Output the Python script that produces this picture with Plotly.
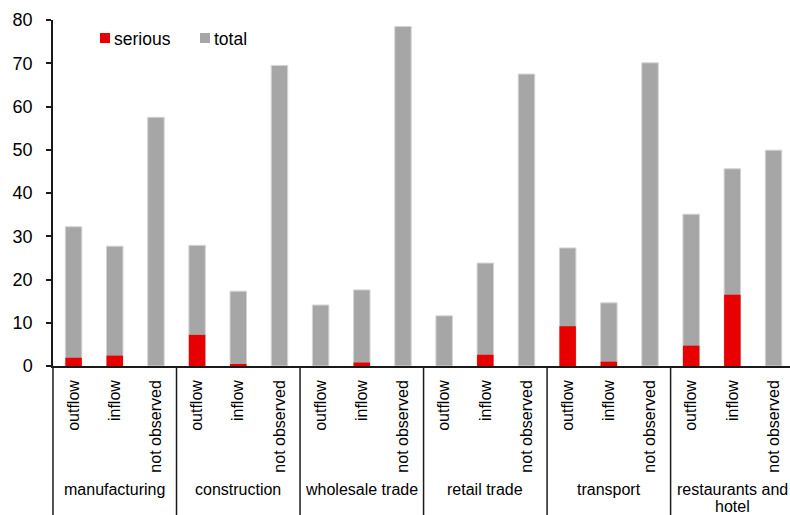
import plotly.graph_objects as go

# Sectors and worker-flow types
sectors = ["manufacturing", "construction", "wholesale trade",
           "retail trade", "transport", "restaurants and<br>hotel"]
flows = ["outflow", "inflow", "not observed"]

# Values per sector, in the order outflow, inflow, not observed
total = [32.2, 27.7, 57.5,
         27.9, 17.3, 69.5,
         14.1, 17.6, 78.5,
         11.6, 23.8, 67.5,
         27.3, 14.6, 70.1,
         35.1, 45.6, 49.9]
serious = [1.9, 2.4, 0.0,
           7.2, 0.4, 0.0,
           0.0, 0.8, 0.0,
           0.0, 2.6, 0.0,
           9.2, 1.0, 0.0,
           4.7, 16.5, 0.0]

y_ticks = [0, 10, 20, 30, 40, 50, 60, 70, 80]

FONT = "Liberation Sans, Arial, sans-serif"
GRAY = "#a6a6a6"
RED = "#e80000"
AXIS = "#1a1a1a"

W, H = 790, 515
ML, MT, MB, MR = 53, 20, 149, 0
PW, PH = W - ML - MR, H - MT - MB

n_sub = len(flows)
pos = list(range(len(sectors) * n_sub))
sub_labels = [f for _ in sectors for f in flows]

fig = go.Figure()
fig.add_trace(go.Bar(x=pos, y=total, width=0.4, name="total",
                     marker=dict(color=GRAY, line=dict(color="#d4d4d4", width=1)),
                     showlegend=False))
fig.add_trace(go.Bar(x=pos, y=serious, width=0.4, name="serious",
                     marker=dict(color=RED, line=dict(width=0)),
                     showlegend=False))


def px_x(p):
    return (p - ML) / PW


def px_y(p):
    return (MT + PH - p) / PH


shapes = []
annotations = []

# y-axis continued down through the label area
shapes.append(dict(type="line", xref="paper", yref="paper",
                   x0=0, x1=0, y0=0, y1=px_y(H),
                   line=dict(color=AXIS, width=1.5)))
# sector dividers
for g in range(1, len(sectors)):
    xd = g * n_sub - 0.5
    shapes.append(dict(type="line", xref="x", yref="paper",
                       x0=xd, x1=xd, y0=0, y1=px_y(H),
                       line=dict(color=AXIS, width=1.5)))

# sector labels, one annotation per text line (tight line spacing)
for g, s in enumerate(sectors):
    for i, line in enumerate(s.split("<br>")):
        annotations.append(dict(x=g * n_sub + (n_sub - 1) / 2, xref="x",
                                y=px_y(489 + 17 * i), yref="paper",
                                yanchor="middle", xanchor="center", showarrow=False,
                                text=line, font=dict(family=FONT, size=16, color="#000")))

# legend drawn as swatches + labels
for label, color, x0 in [("serious", RED, 100), ("total", GRAY, 200)]:
    shapes.append(dict(type="rect", xref="paper", yref="paper",
                       x0=px_x(x0), x1=px_x(x0 + 10), y0=px_y(43), y1=px_y(33),
                       fillcolor=color, line=dict(width=0)))
    annotations.append(dict(x=px_x(x0 + 12), y=px_y(38.5), xref="paper", yref="paper",
                            xanchor="left", yanchor="middle", showarrow=False,
                            text=label, font=dict(family=FONT, size=17.5, color="#000")))

fig.update_layout(
    width=W, height=H,
    margin=dict(l=ML, r=MR, t=MT, b=MB, pad=0),
    barmode="overlay",
    plot_bgcolor="white", paper_bgcolor="white",
    font=dict(family=FONT, color="#000"),
    shapes=shapes, annotations=annotations,
    xaxis=dict(range=[-0.5, len(pos) - 0.6], tickmode="array", tickvals=pos,
               ticktext=sub_labels, tickangle=-90, ticks="",
               tickfont=dict(family=FONT, size=16, color="#000"),
               showline=True, linecolor=AXIS, linewidth=1.5,
               showgrid=False, zeroline=False, ticklabelstandoff=6),
    yaxis=dict(range=[0, 80], tickmode="array", tickvals=y_ticks,
               ticks="outside", ticklen=5, tickcolor=AXIS, tickwidth=1.5,
               tickfont=dict(family=FONT, size=18, color="#000"),
               showline=True, linecolor=AXIS, linewidth=1.5,
               showgrid=False, zeroline=False, ticklabelstandoff=10),
)

fig.write_html("out.html")
